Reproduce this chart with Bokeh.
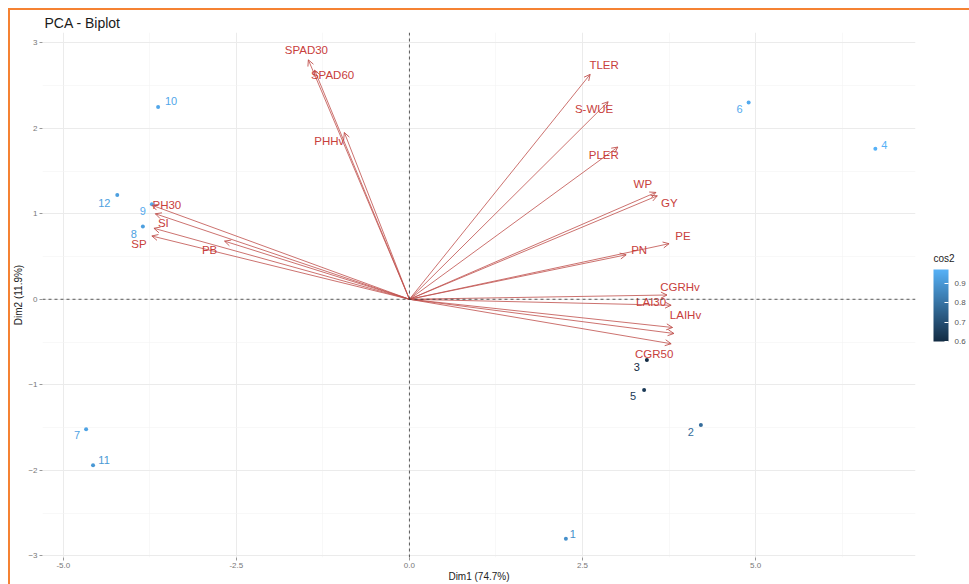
import math
from bokeh.plotting import figure
from bokeh.layouts import row
from bokeh.models import (ColumnDataSource, Arrow, OpenHead, Span, FixedTicker,
                          NumeralTickFormatter, LinearColorMapper, ColorBar, Range1d, Label)
from bokeh.transform import transform
from bokeh.embed import file_html
from bokeh.resources import INLINE
from bokeh.core.properties import value

# ---- individuals (rows) ----
ind_names = ["1", "2", "3", "4", "5", "6", "7", "8", "9", "10", "11", "12"]
ind_x = [2.26, 4.21, 3.43, 6.73, 3.39, 4.90, -4.67, -3.85, -3.72, -3.63, -4.57, -4.22]
ind_y = [-2.80, -1.47, -0.71, 1.76, -1.06, 2.30, -1.52, 0.85, 1.11, 2.25, -1.94, 1.22]
ind_cos2 = [0.88, 0.78, 0.60, 0.97, 0.64, 0.95, 0.93, 0.92, 0.95, 0.94, 0.90, 0.92]
ind_dx = [7, -10, -10, 9, -11, -9, -9, -9, -9, 13, 11, -13]
ind_dy = [-5, 7, 7, -4, 6, 6, 6, 7, 7, -6, -5, 8]

# ---- variables (arrows) ----
var_names = ["SPAD30", "SPAD60", "PHHv", "PH30", "SI", "SP", "PB", "TLER", "S-WUE",
             "PLER", "WP", "GY", "PE", "PN", "CGRHv", "LAI30", "LAIHv", "CGR50"]
var_x = [-1.46, -1.37, -0.94, -3.72, -3.67, -3.72, -2.67, 2.61, 2.87,
         3.01, 3.56, 3.58, 3.75, 3.13, 3.72, 3.78, 3.80, 3.78]
var_y = [2.80, 2.68, 1.95, 1.10, 1.00, 0.74, 0.68, 2.63, 2.31,
         1.78, 1.25, 1.21, 0.65, 0.52, 0.05, -0.07, -0.33, -0.52]
var_dx = [-2, 18, -15, 15, 8, -13, -15, 14, -14, -14, -13, 12, 14, 13, 13, -20, 13, -17]
var_dy = [-10, 5, 8, 0, 9, 8, 9, -9, 7, 8, -8, 7, -8, -5, -8, -3, -12, 10]
extra_x = [-3.69, 3.82]
extra_y = [0.83, -0.40]

x_ticks = [-5.0, -2.5, 0.0, 2.5, 5.0]
x_minor = [-3.75, -1.25, 1.25, 3.75, 6.25]
y_ticks = [-3, -2, -1, 0, 1, 2, 3]
y_minor = [-2.5, -1.5, -0.5, 0.5, 1.5, 2.5]
cb_ticks = [0.6, 0.7, 0.8, 0.9]

# palette between ggplot gradient defaults
def interp(c1, c2, n):
    a = [int(c1[i:i + 2], 16) for i in (1, 3, 5)]
    b = [int(c2[i:i + 2], 16) for i in (1, 3, 5)]
    out = []
    for k in range(n):
        t = k / (n - 1)
        out.append("#%02x%02x%02x" % tuple(round(a[j] + (b[j] - a[j]) * t) for j in range(3)))
    return out

palette = interp("#132B43", "#56B1F7", 256)
mapper = LinearColorMapper(palette=palette, low=min(ind_cos2), high=max(ind_cos2))

XR = (-5.30, 7.31)
YR = (-3.02, 3.12)
p = figure(width=910, height=574, output_backend="svg", toolbar_location=None,
           x_range=Range1d(*XR), y_range=Range1d(*YR),
           title="PCA - Biplot", min_border_left=28, min_border_right=5,
           min_border_top=18, min_border_bottom=21)

p.title.text_font = "Liberation Sans"
p.title.text_font_size = "14px"
p.title.text_font_style = "normal"
p.title.text_color = "#1a1a1a"
p.title.offset = 2
p.title.standoff = 4

p.outline_line_color = None
p.background_fill_color = "white"

p.xaxis.ticker = FixedTicker(ticks=x_ticks, minor_ticks=x_minor)
p.yaxis.ticker = FixedTicker(ticks=y_ticks, minor_ticks=y_minor)
p.xaxis.formatter = NumeralTickFormatter(format="0.0")
for ax in (p.xaxis, p.yaxis):
    ax.axis_line_color = None
    ax.major_tick_in = 0
    ax.major_tick_out = 3
    ax.major_tick_line_color = "#999999"
    ax.minor_tick_line_color = None
    ax.major_label_text_font = "Liberation Sans"
    ax.major_label_text_font_size = "8px"
    ax.major_label_text_color = "#777777"
    ax.major_label_standoff = 1
    ax.axis_label_text_font = "Liberation Sans"
    ax.axis_label_text_font_size = "10px"
    ax.axis_label_text_font_style = "normal"
    ax.axis_label_text_color = "#222222"
p.xaxis.axis_label = "Dim1 (74.7%)"
p.yaxis.axis_label = "Dim2 (11.9%)"
p.xaxis.axis_label_standoff = 0
p.yaxis.axis_label_standoff = 1

p.xgrid.ticker = p.xaxis.ticker
p.ygrid.ticker = p.yaxis.ticker
for g in (p.xgrid, p.ygrid):
    g.grid_line_color = "#EBEBEB"
    g.grid_line_width = 1
    g.minor_grid_line_color = "#F3F3F3"
    g.minor_grid_line_width = 0.6

p.add_layout(Span(location=0, dimension="height", line_color="#333333",
                  line_dash="3 3", line_width=0.8))
p.add_layout(Span(location=0, dimension="width", line_color="#333333",
                  line_dash="3 3", line_width=0.8))

# arrows: bodies as segments, heads as Arrow annotations
red = "#C0504D"
vsrc = ColumnDataSource(dict(x=var_x, y=var_y, name=var_names, dx=var_dx, dy=var_dy,
                             x0=[0] * len(var_x), y0=[0] * len(var_y)))
esrc = ColumnDataSource(dict(x=extra_x, y=extra_y, x0=[0] * len(extra_x), y0=[0] * len(extra_y)))
for src in (vsrc, esrc):
    p.segment(x0="x0", y0="y0", x1="x", y1="y", source=src,
              line_color=red, line_width=0.9, line_alpha=0.9)
    p.add_layout(Arrow(source=src, x_start="x0", y_start="y0", x_end="x", y_end="y",
                       line_alpha=0, line_color=red,
                       end=OpenHead(size=6, line_color=red, line_width=0.9)))
p.text(x="x", y="y", text="name", source=vsrc, x_offset="dx", y_offset="dy",
       text_font=value("Liberation Sans"), text_font_size="11.5px", text_color="#C8403C",
       text_align="center", text_baseline="middle")

# individuals
isrc = ColumnDataSource(dict(x=ind_x, y=ind_y, name=ind_names, cos2=ind_cos2,
                             dx=ind_dx, dy=ind_dy))
p.scatter(x="x", y="y", source=isrc, size=4, line_color=None,
          fill_color=transform("cos2", mapper))
p.text(x="x", y="y", text="name", source=isrc, x_offset="dx", y_offset="dy",
       text_font=value("Liberation Sans"), text_font_size="11px",
       text_color=transform("cos2", mapper), text_align="center", text_baseline="middle")

# legend panel (separate narrow figure)
leg = figure(width=49, height=574, output_backend="svg", toolbar_location=None,
             x_axis_type=None, y_axis_type=None, min_border=0,
             x_range=Range1d(0, 1), y_range=Range1d(0, 1))
leg.outline_line_color = None
leg.xgrid.visible = False
leg.ygrid.visible = False
cb = ColorBar(color_mapper=mapper, width=15, height=72, title=None,
              ticker=FixedTicker(ticks=cb_ticks),
              major_label_text_font="Liberation Sans", major_label_text_font_size="8px",
              major_label_text_color="#555555", major_tick_line_color="white",
              major_tick_in=4, major_tick_out=0, bar_line_color=None,
              label_standoff=6, padding=0, margin=0, location=(13, 216),
              background_fill_alpha=0, border_line_color=None)
leg.add_layout(cb, "center")
leg.add_layout(Label(x=13, y=299, x_units="screen", y_units="screen", text="cos2",
                     text_font="Liberation Sans", text_font_size="10px", text_color="#222222",
                     text_align="left", text_baseline="middle"))

layout = row(p, leg, margin=(8, 0, 0, 8))
layout.styles = {"border-left": "2px solid #F58232", "border-top": "2px solid #F58232"}
open("out.html", "w").write(file_html(layout, INLINE))
